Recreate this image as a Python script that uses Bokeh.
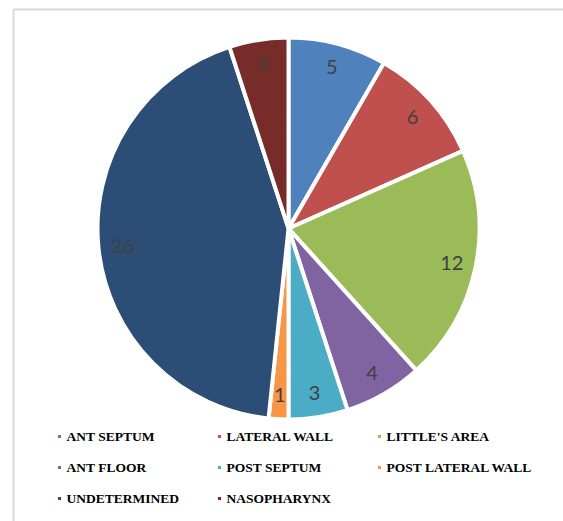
import numpy as np
from bokeh.plotting import figure
from bokeh.models import Range1d, ColumnDataSource
from bokeh.core.properties import value
from bokeh.embed import file_html
from bokeh.resources import INLINE

categories = ["ANT SEPTUM", "LATERAL WALL", "LITTLE'S AREA", "ANT FLOOR",
              "POST SEPTUM", "POST LATERAL WALL", "UNDETERMINED", "NASOPHARYNX"]
counts = [5, 6, 12, 4, 3, 1, 26, 3]
colors = ["#4F81BD", "#C0504D", "#9BBB59", "#8064A2",
          "#4BACC6", "#F79646", "#2C4D75", "#772C2A"]

W, H = 563, 521
p = figure(width=W, height=H, output_backend="svg", toolbar_location=None,
           x_range=Range1d(0, W), y_range=Range1d(0, H), min_border=0)
p.axis.visible = False
p.grid.visible = False
p.outline_line_color = None
p.background_fill_color = "white"

# chart frame (top and left edges visible)
p.line([13, W], [H - 9, H - 9], line_color="#d9d9d9", line_width=2)
p.line([13, 13], [0, H - 9], line_color="#d9d9d9", line_width=2)

vals = np.array(counts, dtype=float)
total = vals.sum()
cum = np.concatenate([[0], np.cumsum(vals)])
start = np.pi / 2 - 2 * np.pi * cum[:-1] / total
end = np.pi / 2 - 2 * np.pi * cum[1:] / total
mid = (start + end) / 2

cx, cy, R = 288, 293, 191
src = ColumnDataSource(dict(start=start, end=end, color=colors, cat=categories,
                            val=[str(c) for c in counts],
                            lx=cx + 167 * np.cos(mid), ly=cy + 167 * np.sin(mid)))
p.wedge(x=cx, y=cy, radius=R, radius_units="screen", start_angle="start", end_angle="end",
        direction="clock", fill_color="color", line_color="white", line_width=4, source=src)
p.text(x="lx", y="ly", text="val", source=src, text_align="center", text_baseline="middle",
       text_font=value("Lato"), text_font_size="20px", text_color="#404040")

# legend
idx = np.arange(len(categories))
col = idx % 3
row = idx // 3
mx = 59 + col * 160
my = 85 - row * 31
lsrc = ColumnDataSource(dict(mx=mx, my=my, tx=mx + 7, cat=categories, color=colors))
p.scatter(x="mx", y="my", marker="square", size=3, fill_color="color", line_color=None, source=lsrc)
p.text(x="tx", y="my", text="cat", source=lsrc, text_align="left", text_baseline="middle",
       text_font=value("Liberation Serif"), text_font_style="bold", text_font_size="13.5px",
       text_color="#000000")

open("out.html", "w").write(file_html(p, INLINE))
